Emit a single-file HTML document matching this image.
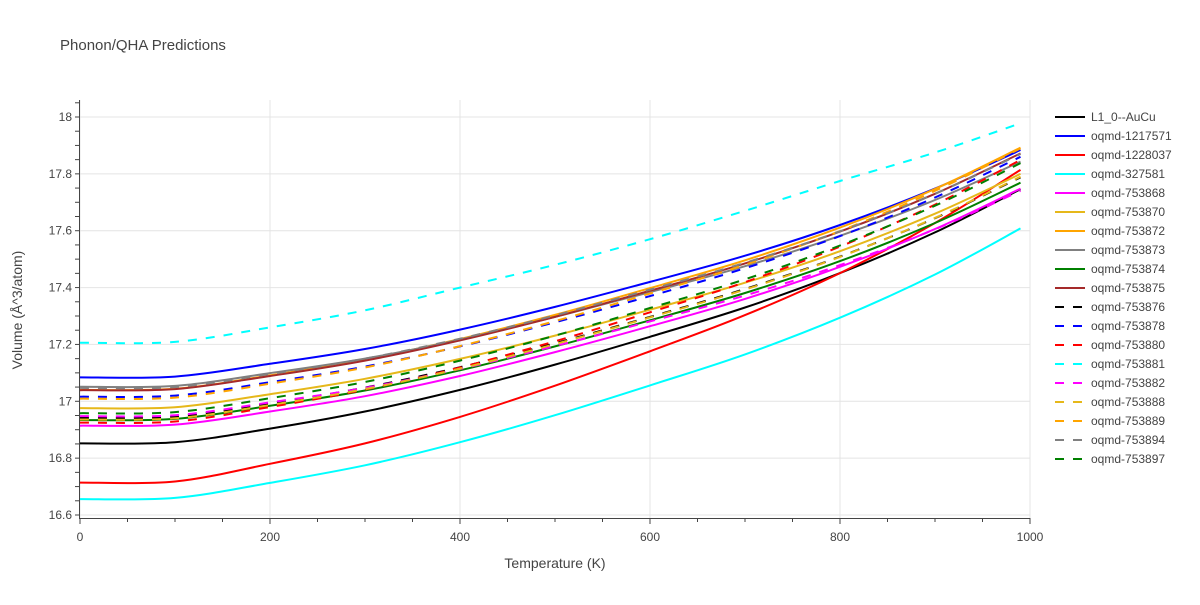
<!DOCTYPE html>
<html><head><meta charset="utf-8"><style>
body{margin:0;background:#fff;font-family:"Liberation Sans",Arial,sans-serif}
svg text{font-family:"Liberation Sans",Arial,sans-serif}
</style></head><body>
<svg id="c" width="1200" height="600" xmlns="http://www.w3.org/2000/svg">
<text x="60" y="50" font-size="15" fill="#444">Phonon/QHA Predictions</text>
<g id="grid"></g><g id="plot"></g><g id="axes"></g><g id="legend"></g>
<text x="555" y="568" font-size="14" fill="#444" text-anchor="middle">Temperature (K)</text>
<text x="22" y="310" font-size="14" fill="#444" text-anchor="middle" transform="rotate(-90 22 310)">Volume (Å^3/atom)</text>
</svg>
<script>
const temps=[0,100,200,300,400,500,600,700,800,900,990];
const names=["L1_0--AuCu","oqmd-1217571","oqmd-1228037","oqmd-327581","oqmd-753868","oqmd-753870","oqmd-753872","oqmd-753873","oqmd-753874","oqmd-753875","oqmd-753876","oqmd-753878","oqmd-753880","oqmd-753881","oqmd-753882","oqmd-753888","oqmd-753889","oqmd-753894","oqmd-753897"];
const colors=["#000","#0000ff","#ff0000","#00ffff","#ff00ff","#e6b81a","#ffa500","#808080","#008000","#a52a2a","#000","#0000ff","#ff0000","#00ffff","#ff00ff","#e6b81a","#ffa500","#808080","#008000"];
const dashed=[0,0,0,0,0,0,0,0,0,0,1,1,1,1,1,1,1,1,1];
const s0=[16.852,16.856,16.904,16.964,17.040,17.129,17.227,17.330,17.451,17.594,17.746];
const s1=[17.084,17.087,17.132,17.184,17.252,17.332,17.420,17.512,17.620,17.748,17.884];
const s2=[16.714,16.718,16.780,16.852,16.945,17.055,17.176,17.303,17.451,17.627,17.814];
const s3=[16.656,16.660,16.713,16.775,16.856,16.951,17.056,17.165,17.294,17.446,17.608];
const s4=[16.914,16.918,16.964,17.018,17.089,17.173,17.264,17.360,17.473,17.606,17.748];
const s5=[16.976,16.979,17.025,17.079,17.149,17.231,17.322,17.417,17.528,17.660,17.800];
const s6=[17.040,17.044,17.091,17.147,17.219,17.304,17.398,17.496,17.611,17.747,17.892];
const s7=[17.051,17.054,17.099,17.150,17.217,17.297,17.384,17.475,17.582,17.708,17.843];
const s8=[16.934,16.938,16.984,17.038,17.109,17.193,17.285,17.381,17.493,17.627,17.769];
const s9=[17.039,17.043,17.089,17.143,17.214,17.297,17.389,17.485,17.597,17.730,17.872];
const s10=[16.942,16.946,16.993,17.048,17.120,17.204,17.297,17.395,17.509,17.644,17.788];
const s11=[17.016,17.020,17.067,17.122,17.193,17.278,17.370,17.468,17.581,17.717,17.860];
const s12=[16.925,16.929,16.980,17.041,17.119,17.211,17.313,17.419,17.544,17.692,17.849];
const s13=[17.206,17.209,17.260,17.320,17.400,17.480,17.570,17.670,17.775,17.875,17.978];
const s14=[16.948,16.951,16.996,17.047,17.114,17.194,17.281,17.372,17.479,17.605,17.740];
const s15=[16.936,16.940,16.987,17.043,17.115,17.201,17.295,17.393,17.508,17.645,17.790];
const s16=[17.009,17.013,17.062,17.119,17.194,17.282,17.379,17.480,17.599,17.740,17.890];
const s17=[17.047,17.050,17.096,17.150,17.220,17.302,17.393,17.487,17.598,17.730,17.870];
const s18=[16.958,16.962,17.011,17.068,17.143,17.231,17.328,17.429,17.548,17.688,17.838];
const series=[s0,s1,s2,s3,s4,s5,s6,s7,s8,s9,s10,s11,s12,s13,s14,s15,s16,s17,s18];
const xTicks=[0,200,400,600,800,1000];
const yTicks=[16.6,16.8,17,17.2,17.4,17.6,17.8,18];
const X0=80,X1=1030,Y0=515,Y1=117,ymin=16.6,ymax=18;
const xs=t=>X0+(t/1000)*(X1-X0);
const ys=v=>Y0-(v-ymin)/(ymax-ymin)*(Y0-Y1);
const NS="http://www.w3.org/2000/svg";
function mk(tag,parent,attrs){const e=document.createElementNS(NS,tag);for(const k in attrs)e.setAttribute(k,attrs[k]);parent.appendChild(e);return e;}
function smooth(pts){
 let d='M'+pts[0][0].toFixed(1)+','+pts[0][1].toFixed(1);
 for(let i=0;i<pts.length-1;i++){
  const p0=pts[Math.max(0,i-1)],p1=pts[i],p2=pts[i+1],p3=pts[Math.min(pts.length-1,i+2)];
  const c1x=p1[0]+(p2[0]-p0[0])/6,c1y=p1[1]+(p2[1]-p0[1])/6;
  const c2x=p2[0]-(p3[0]-p1[0])/6,c2y=p2[1]-(p3[1]-p1[1])/6;
  d+=' C'+c1x.toFixed(1)+','+c1y.toFixed(1)+' '+c2x.toFixed(1)+','+c2y.toFixed(1)+' '+p2[0].toFixed(1)+','+p2[1].toFixed(1);
 }
 return d;
}
const grid=document.getElementById('grid'),plot=document.getElementById('plot'),axes=document.getElementById('axes'),leg=document.getElementById('legend');
xTicks.forEach(t=>{
 const l=mk('line',grid,{x1:xs(t),x2:xs(t),y1:100,y2:Y0+3,stroke:'#e4e4e4','stroke-width':1});
 
 
 const tx=mk('text',axes,{x:xs(t),y:541,'font-size':12,fill:'#444','text-anchor':'middle'});
 tx.textContent=t;
 
 
});
for(let t=0;t<=1000;t+=50){mk('line',axes,{x1:xs(t),x2:xs(t),y1:518,y2:t%200==0?524:522,stroke:'#444','stroke-width':1});}
yTicks.forEach(v=>{
 const l=mk('line',grid,{x1:X0,x2:X1,y1:ys(v),y2:ys(v),stroke:'#e4e4e4','stroke-width':1});
 
 
 const tx=mk('text',axes,{x:72,y:ys(v)+4,'font-size':12,fill:'#444','text-anchor':'end'});
 tx.textContent=String(+v.toFixed(1));
 
 
});
for(let v=16.6;v<=18.051;v+=0.05){mk('line',axes,{x1:75,x2:79,y1:ys(v),y2:ys(v),stroke:'#444','stroke-width':1});}
mk('line',axes,{x1:79.5,x2:79.5,y1:100,y2:518,stroke:'#444','stroke-width':1});
mk('line',axes,{x1:79,x2:X1,y1:518.5,y2:518.5,stroke:'#444','stroke-width':1});
series.forEach((s,i)=>{
 const pts=s.map((v,j)=>[xs(temps[j]),ys(v)]);
 const p=mk('path',plot,{d:smooth(pts),fill:'none',stroke:colors[i],'stroke-width':2});
 if(dashed[i])p.setAttribute('stroke-dasharray','9,9');
 
 
 const y=117+i*19;
 const g=mk('g',leg,{});
 
 
 const ll=mk('line',g,{x1:1055,x2:1085,y1:y,y2:y,stroke:colors[i],'stroke-width':2});
 if(dashed[i])ll.setAttribute('stroke-dasharray','9,9');
 const t=mk('text',g,{x:1091,y:y+4,'font-size':12,fill:'#444'});
 t.textContent=names[i];
});
</script>
</body></html>
